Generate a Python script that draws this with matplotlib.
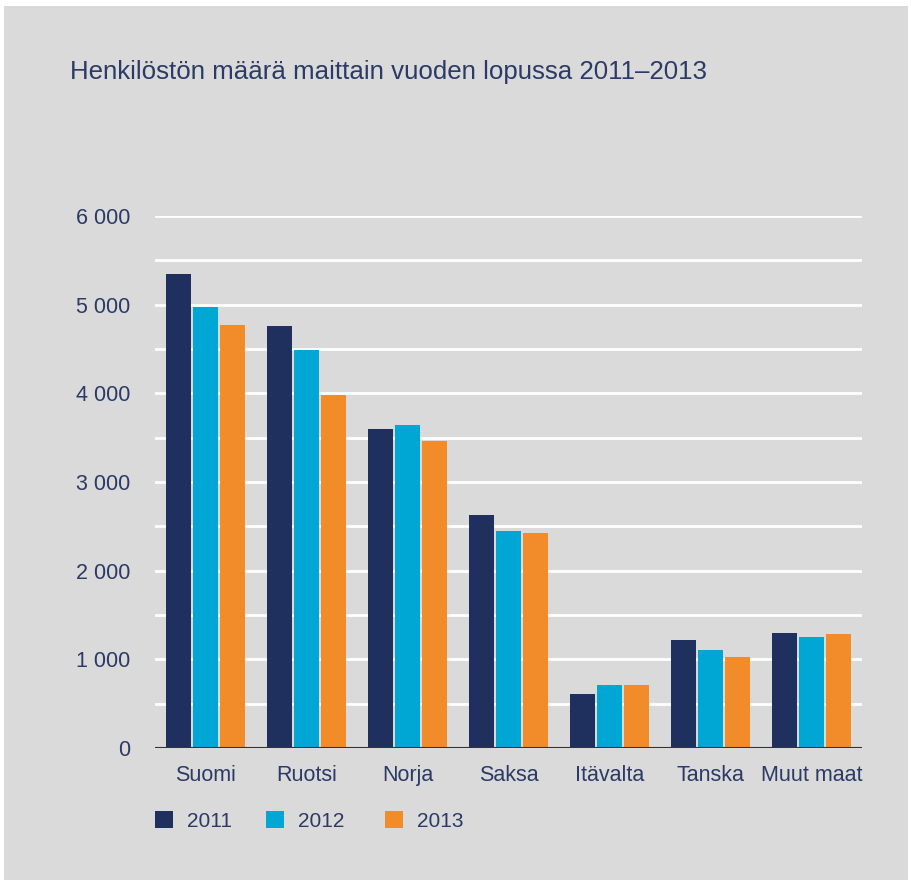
import matplotlib
matplotlib.use("Agg")
import matplotlib.pyplot as plt
from matplotlib.patches import Rectangle
import numpy as np

plt.rcParams['font.family'] = ['Liberation Sans', 'DejaVu Sans']

# Data
countries = ["Suomi", "Ruotsi", "Norja", "Saksa", "Itävalta", "Tanska", "Muut maat"]
years = ["2011", "2012", "2013"]
v2011 = [5350, 4760, 3600, 2630, 610, 1220, 1300]
v2012 = [4975, 4490, 3640, 2450, 710, 1105, 1250]
v2013 = [4770, 3980, 3460, 2425, 710, 1025, 1285]
yticks = [0, 1000, 2000, 3000, 4000, 5000, 6000]
yticklabels = ["0", "1 000", "2 000", "3 000", "4 000", "5 000", "6 000"]

colors = ["#1f305e", "#00a7d5", "#f28b2a"]
text_col = "#2b3a66"
bg = "#dadada"

fig = plt.figure(figsize=(9.12, 8.85), dpi=100, facecolor="white")
# grey panel behind everything
fig.patches.append(Rectangle((4/912, 1 - 880/885), 904/912, 874/885,
                             transform=fig.transFigure, facecolor=bg,
                             edgecolor="none", zorder=-1))

ax = fig.add_axes([155/912, 1 - 748/885, 707/912, 532/885])
ax.set_zorder(2)
ax.patch.set_alpha(0)

x = np.arange(len(countries))
width = 0.245
step = 0.27
bars = []
for i, vals in enumerate([v2011, v2012, v2013]):
    b = ax.bar(x + (i - 1) * step, vals, width=width, color=colors[i],
               label=years[i], zorder=3, linewidth=0)
    bars.append(b)

ax.set_xlim(-0.5, len(countries) - 0.5)
ax.set_ylim(0, 6000)

# white gridlines every 500
for y in np.arange(500, 6001, 500):
    ax.axhline(y, color="white", linewidth=2, zorder=1)
ax.axhline(0, color="#333333", linewidth=1.5, zorder=4)

for s in ax.spines.values():
    s.set_visible(False)

ax.set_yticks(yticks)
ax.set_yticklabels(yticklabels)
ax.set_xticks(x)
ax.set_xticklabels(countries)
ax.tick_params(axis="both", length=0, labelsize=15.5, colors=text_col)
ax.tick_params(axis="y", pad=18)
ax.tick_params(axis="x", pad=24)
# keep all country names on the same baseline
for lab in ax.get_xticklabels():
    lab.set_va("baseline")

fig.text(70/912, 1 - 72/885, "Henkilöstön määrä maittain vuoden lopussa 2011–2013",
         fontsize=18.6, color=text_col, va="center", ha="left")

# one legend entry per year, placed like in the reference
leg_x = [155, 266, 385]
for i in range(3):
    leg = fig.legend(handles=[bars[i]], labels=[years[i]], loc="center left",
                     bbox_to_anchor=(leg_x[i]/912, 1 - 821/885), frameon=False,
                     handlelength=0.85, handleheight=0.85, handletextpad=0.7,
                     borderpad=0, borderaxespad=0, fontsize=15)
    for t in leg.get_texts():
        t.set_color(text_col)

fig.savefig("out.png", dpi=100, facecolor="white")
